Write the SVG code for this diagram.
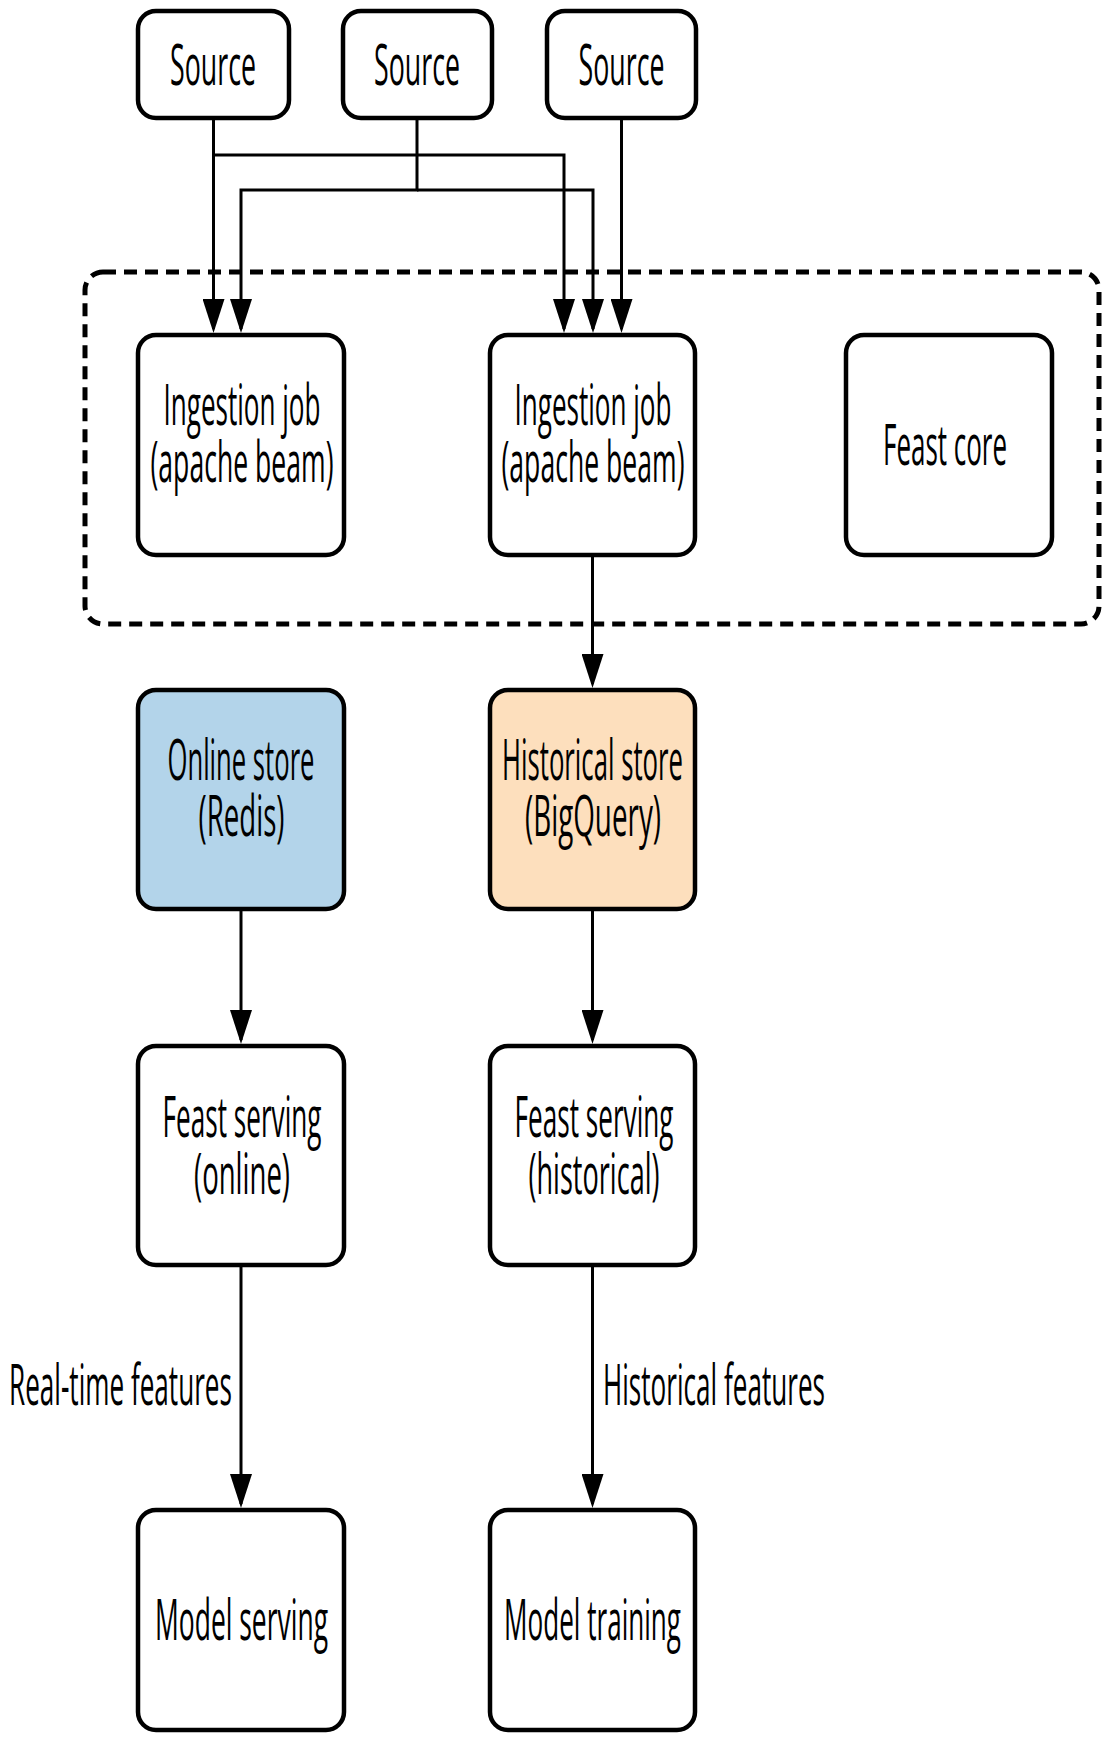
<svg xmlns="http://www.w3.org/2000/svg" width="1103" height="1737" viewBox="0 0 1103 1737">
  <style>
    .box { fill: #ffffff; stroke: #000000; stroke-width: 4.5; }
    .online { fill: #b3d4ea; }
    .hist { fill: #fddfbd; }
    .lbl { font-family: "Open Sans", "Noto Sans", sans-serif; font-size: 56px; fill: #000000; text-anchor: middle; }
    .elbl { font-family: "Open Sans", "Noto Sans", sans-serif; font-size: 56px; fill: #000000; }
    .conn { fill: none; stroke: #000000; stroke-width: 3; }
    .group { fill: none; stroke: #000000; stroke-width: 5; stroke-dasharray: 13 8; }
  </style>
  <defs>
    <marker id="arrow" markerUnits="userSpaceOnUse" markerWidth="34" markerHeight="22" viewBox="0 0 34 22" refX="30" refY="11" orient="auto">
      <path d="M0,0 L34,11 L0,22 z" fill="#000000"/>
    </marker>
  </defs>

  <rect id="feast-group" class="group" x="85" y="272" width="1014" height="352" rx="18" ry="18"/>

  <g id="connectors">
    <path class="conn" d="M213.5,120 V329" marker-end="url(#arrow)"/>
    <path class="conn" d="M213.5,155 H564 V329" marker-end="url(#arrow)"/>
    <path class="conn" d="M417,120 V190 H241 V329" marker-end="url(#arrow)"/>
    <path class="conn" d="M417,190 H593 V329" marker-end="url(#arrow)"/>
    <path class="conn" d="M621.5,120 V329" marker-end="url(#arrow)"/>
    <path class="conn" d="M592.5,557 V684" marker-end="url(#arrow)"/>
    <path class="conn" d="M241,911 V1040" marker-end="url(#arrow)"/>
    <path class="conn" d="M592.5,911 V1040" marker-end="url(#arrow)"/>
    <path class="conn" d="M241,1267 V1504" marker-end="url(#arrow)"/>
    <path class="conn" d="M592.5,1267 V1504" marker-end="url(#arrow)"/>
    <text class="elbl" x="9" y="1405" textLength="223" lengthAdjust="spacingAndGlyphs">Real-time features</text>
    <text class="elbl" x="603" y="1405" textLength="222" lengthAdjust="spacingAndGlyphs">Historical features</text>
  </g>

  <g id="source-1">
    <rect class="box" x="138" y="11" width="151" height="107" rx="18" ry="18"/>
    <text class="lbl" x="213" y="85" textLength="86" lengthAdjust="spacingAndGlyphs">Source</text>
  </g>
  <g id="source-2">
    <rect class="box" x="343" y="11" width="149" height="107" rx="18" ry="18"/>
    <text class="lbl" x="417" y="85" textLength="86" lengthAdjust="spacingAndGlyphs">Source</text>
  </g>
  <g id="source-3">
    <rect class="box" x="547" y="11" width="149" height="107" rx="18" ry="18"/>
    <text class="lbl" x="621.5" y="85" textLength="86" lengthAdjust="spacingAndGlyphs">Source</text>
  </g>

  <g id="ingestion-job-1">
    <rect class="box" x="138" y="335" width="206" height="220" rx="18" ry="18"/>
    <text class="lbl" x="242" y="425" textLength="157" lengthAdjust="spacingAndGlyphs">Ingestion job</text>
    <text class="lbl" x="242" y="481.5" textLength="183" lengthAdjust="spacingAndGlyphs">(apache beam)</text>
  </g>
  <g id="ingestion-job-2">
    <rect class="box" x="490" y="335" width="205" height="220" rx="18" ry="18"/>
    <text class="lbl" x="593" y="425" textLength="157" lengthAdjust="spacingAndGlyphs">Ingestion job</text>
    <text class="lbl" x="593" y="481.5" textLength="183" lengthAdjust="spacingAndGlyphs">(apache beam)</text>
  </g>
  <g id="feast-core">
    <rect class="box" x="846" y="335" width="206" height="220" rx="18" ry="18"/>
    <text class="lbl" x="945" y="465" textLength="124" lengthAdjust="spacingAndGlyphs">Feast core</text>
  </g>

  <g id="online-store">
    <rect class="box online" x="138" y="690" width="206" height="219" rx="18" ry="18"/>
    <text class="lbl" x="241" y="780" textLength="147" lengthAdjust="spacingAndGlyphs">Online store</text>
    <text class="lbl" x="241.5" y="835.5" textLength="86" lengthAdjust="spacingAndGlyphs">(Redis)</text>
  </g>
  <g id="historical-store">
    <rect class="box hist" x="490" y="690" width="205" height="219" rx="18" ry="18"/>
    <text class="lbl" x="592.5" y="780" textLength="181" lengthAdjust="spacingAndGlyphs">Historical store</text>
    <text class="lbl" x="593" y="835.5" textLength="136" lengthAdjust="spacingAndGlyphs">(BigQuery)</text>
  </g>

  <g id="feast-serving-online">
    <rect class="box" x="138" y="1046" width="206" height="219" rx="18" ry="18"/>
    <text class="lbl" x="242" y="1137" textLength="159" lengthAdjust="spacingAndGlyphs">Feast serving</text>
    <text class="lbl" x="242" y="1193.5" textLength="96" lengthAdjust="spacingAndGlyphs">(online)</text>
  </g>
  <g id="feast-serving-historical">
    <rect class="box" x="490" y="1046" width="205" height="219" rx="18" ry="18"/>
    <text class="lbl" x="594" y="1137" textLength="159" lengthAdjust="spacingAndGlyphs">Feast serving</text>
    <text class="lbl" x="594" y="1193.5" textLength="131" lengthAdjust="spacingAndGlyphs">(historical)</text>
  </g>

  <g id="model-serving">
    <rect class="box" x="138" y="1510" width="206" height="220" rx="18" ry="18"/>
    <text class="lbl" x="241.5" y="1640" textLength="173" lengthAdjust="spacingAndGlyphs">Model serving</text>
  </g>
  <g id="model-training">
    <rect class="box" x="490" y="1510" width="205" height="220" rx="18" ry="18"/>
    <text class="lbl" x="592.5" y="1640" textLength="177" lengthAdjust="spacingAndGlyphs">Model training</text>
  </g>
</svg>
